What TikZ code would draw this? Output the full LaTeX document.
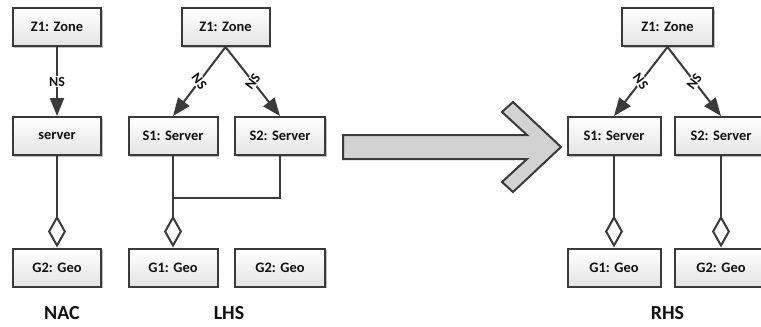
\documentclass[tikz,border=0pt]{standalone}
\usepackage{fontspec}
\setmainfont{Carlito}
\usetikzlibrary{arrows.meta,shadows}
\definecolor{linec}{HTML}{3A3A3A}
\definecolor{boxb}{HTML}{E4E4E4}
\definecolor{arrfill}{HTML}{D2D2D2}
\definecolor{txt}{HTML}{111111}
\begin{document}
\begin{tikzpicture}[x=1bp,y=-1bp,
  box/.style={draw=linec, line width=2bp, top color=white, bottom color=boxb,
    minimum width=88bp, minimum height=38bp, inner sep=0pt, text=txt,
    font=\bfseries\fontsize{14.5}{15}\selectfont,
    drop shadow={shadow xshift=1.5bp, shadow yshift=-1.5bp, fill=black, opacity=0.25}},
  conn/.style={draw=linec, line width=2bp},
  nsarr/.style={-{Triangle[length=18bp,width=14bp]}},
  agg/.style={-{Diamond[length=32bp,width=18bp,fill=white,line width=2bp]}},
  nslbl/.style={fill=white, inner sep=1bp, text=txt, font=\bfseries\fontsize{14}{15}\selectfont},
  title/.style={text=txt, font=\bfseries\fontsize{20}{21}\selectfont},
  bigarrow/.style={draw=linec, line width=2bp, fill=arrfill, line join=miter}
]
\useasboundingbox (0,0) rectangle (761,326);
% NAC
\node[box] (nz) at (57,27) {Z1: Zone};
\node[box] (ns) at (57,136) {server};
\node[box] (ng) at (57,267.5) {G2: Geo};
\draw[conn,nsarr] (nz) -- node[nslbl]{NS} (ns);
\draw[conn,agg] (ns) -- (ng);
\node[title] (nac) at (62,313) {NAC};
% LHS
\node[box] (lz) at (225.5,27) {Z1: Zone};
\node[box, minimum width=89bp] (ls1) at (173,136) {S1: Server};
\node[box, minimum width=90bp] (ls2) at (280,136) {S2: Server};
\node[box, minimum width=89bp] (lg1) at (173,267.5) {G1: Geo};
\node[box, minimum width=90bp] (lg2) at (280,267.5) {G2: Geo};
\draw[conn,nsarr] (lz.south) -- node[nslbl, rotate=-53]{NS} (ls1.north);
\draw[conn,nsarr] (lz.south) -- node[nslbl, rotate=53]{NS} (ls2.north);
\draw[conn,agg] (ls1) -- (lg1);
\coordinate (j) at (173,198);
\draw[conn] (ls2.south) |- (j);
\node[title] (lhs) at (229,313) {LHS};
% big arrow
\draw[bigarrow] (343,135) -- (527,135) -- (502,112) -- (513,102) -- (561,147)
  -- (513,192) -- (502,182) -- (527,159) -- (343,159) -- cycle;
% RHS
\node[box, minimum width=91bp] (rz) at (667.5,27) {Z1: Zone};
\node[box, minimum width=93bp] (rs1) at (614,136) {S1: Server};
\node[box, minimum width=93bp] (rs2) at (721,136) {S2: Server};
\node[box, minimum width=93bp] (rg1) at (614,267.5) {G1: Geo};
\node[box, minimum width=93bp] (rg2) at (721,267.5) {G2: Geo};
\draw[conn,nsarr] (rz.south) -- node[nslbl, rotate=-53]{NS} (rs1.north);
\draw[conn,nsarr] (rz.south) -- node[nslbl, rotate=53]{NS} (rs2.north);
\draw[conn,agg] (rs1) -- (rg1);
\draw[conn,agg] (rs2) -- (rg2);
\node[title] (rhs) at (667.5,313) {RHS};
\end{tikzpicture}
\end{document}
